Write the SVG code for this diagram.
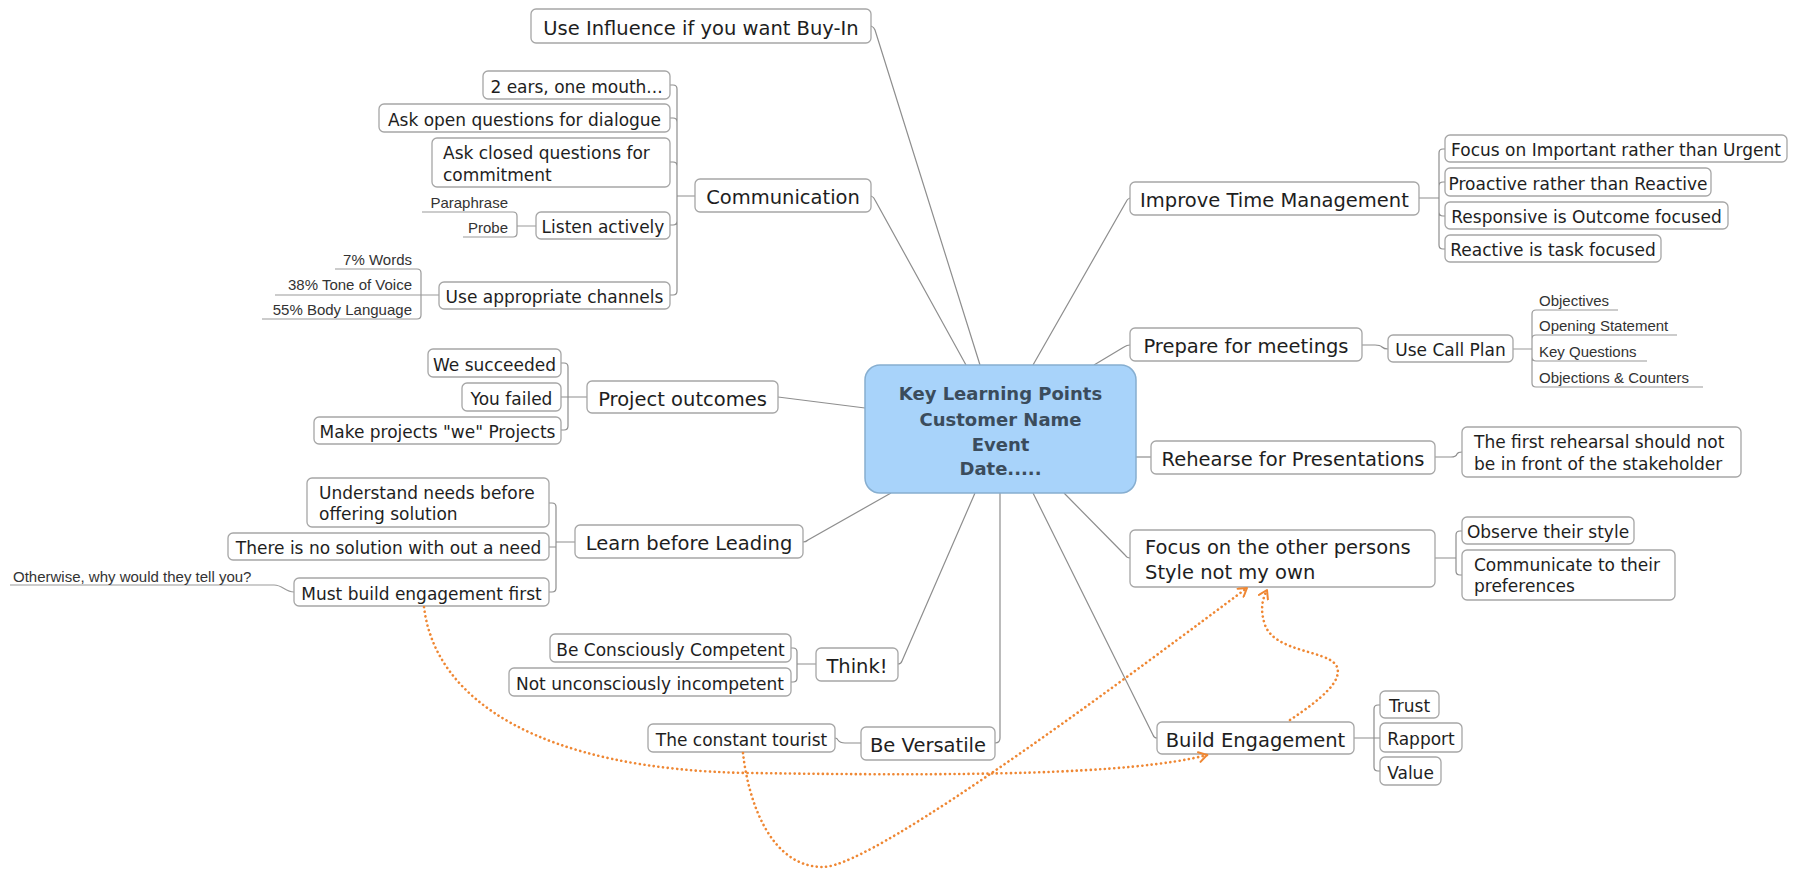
<svg xmlns="http://www.w3.org/2000/svg" width="1807" height="871" viewBox="0 0 1807 871">
<defs>
<style>
.bg{fill:#ffffff}
.box{fill:#ffffff;stroke:#a6a6a6;stroke-width:1.3}
.ctr{fill:#a8d3fa;stroke:#86aed0;stroke-width:1.5}
.ct{font-family:"DejaVu Sans",sans-serif;font-weight:bold;font-size:18px;fill:#3b4c5c;text-anchor:middle}
.m{font-family:"DejaVu Sans",sans-serif;font-size:19.5px;fill:#1e1e1e}
.s{font-family:"DejaVu Sans",sans-serif;font-size:17px;fill:#1e1e1e}
.c{text-anchor:middle}
.l{font-family:"Liberation Sans",Arial,sans-serif;font-size:15px;fill:#333333}
.e{text-anchor:end}
.ln{fill:none;stroke:#8e8e8e;stroke-width:1.2}
.ul{fill:none;stroke:#9a9a9a;stroke-width:1.2}
.rel{fill:none;stroke:#ef8733;stroke-width:2.6;stroke-dasharray:0.1 4.6;stroke-linecap:round}
</style>
<marker id="arr" viewBox="-10 -6 12 12" refX="0" refY="0" markerWidth="12" markerHeight="12" markerUnits="userSpaceOnUse" orient="auto">
<path d="M-8,-5 L0,0 L-8,5" fill="none" stroke="#ef8733" stroke-width="2" stroke-linecap="round" stroke-linejoin="round"/>
</marker>
</defs>
<rect class="bg" x="0" y="0" width="1807" height="871"/>

<g id="connectors">
<!-- central -->
<path class="ln" d="M871 26 Q874 27 875 30 L980 365"/>
<path class="ln" d="M871 196 Q874 197 875 200 L966 365"/>
<path class="ln" d="M1130 198 Q1127 199 1126 202 L1033 365"/>
<path class="ln" d="M1130 345 Q1127 345 1124 347 L1094 365"/>
<path class="ln" d="M1136 457 H1151"/>
<path class="ln" d="M1130 558 Q1127 558 1125 555 L1064 493"/>
<path class="ln" d="M1157 738 Q1154 738 1153 735 L1033 493"/>
<path class="ln" d="M995 743 Q1000 743 1000 738 V493"/>
<path class="ln" d="M898 664 Q901 664 902 661 L975 493"/>
<path class="ln" d="M803 542 Q806 542 808 540 L891 493"/>
<path class="ln" d="M778 397 L865 408"/>
<!-- communication -->
<path class="ln" d="M695 196 H677 M677 196 V89 Q677 85 673 85 H670 M677 196 V122 Q677 118 673 118 H670 M677 196 V166 Q677 162 673 162 H670 M677 196 V221 Q677 225 673 225 H670 M677 196 V291 Q677 295 673 295 H670"/>
<path class="ul" d="M536 226 H517 M517 226 V216 Q517 212 513 212 H422 M517 226 V233 Q517 237 513 237 H463"/>
<path class="ul" d="M439 295 H275 M421 295 V273 Q421 269 417 269 H335 M421 295 V315 Q421 319 417 319 H262"/>
<!-- project outcomes -->
<path class="ln" d="M587 397 H561 M568 397 V367 Q568 363 564 363 H561 M568 397 V426 Q568 430 564 430 H561"/>
<!-- learn before leading -->
<path class="ln" d="M575 542 H556 M556 542 V507 Q556 503 552 503 H549 M556 542 V547 H549 M556 542 V588 Q556 592 552 592 H549"/>
<path class="ul" d="M294 592 C285 592 283 585 274 585 H10"/>
<!-- think -->
<path class="ln" d="M816 664 H797 M797 664 V652 Q797 648 793 648 H791 M797 664 V678 Q797 682 793 682 H791"/>
<!-- versatile -->
<path class="ln" d="M861 743 H845 Q840 743 838 740 Q837 738 835 738"/>
<!-- time management -->
<path class="ln" d="M1419 198 H1439 M1439 198 V153 Q1439 149 1443 149 H1445 M1439 198 V186 Q1439 182 1443 182 H1445 M1439 198 V212 Q1439 216 1443 216 H1445 M1439 198 V245 Q1439 249 1443 249 H1445"/>
<!-- prepare -->
<path class="ln" d="M1362 345 H1375 Q1380 345 1382 347 Q1384 349 1388 349"/>
<path class="ul" d="M1513 349 H1532 M1532 349 V314 Q1532 310 1536 310 H1618 M1532 349 V339 Q1532 335 1536 335 H1677 M1532 349 V357 Q1532 361 1536 361 H1647 M1532 349 V383 Q1532 387 1536 387 H1703"/>
<!-- rehearse -->
<path class="ln" d="M1435 457 H1451 Q1456 457 1457 454 Q1458 452 1462 452"/>
<!-- focus -->
<path class="ln" d="M1435 558 H1456 M1456 558 V535 Q1456 531 1460 531 H1462 M1456 558 V571 Q1456 575 1460 575 H1462"/>
<!-- build -->
<path class="ln" d="M1354 738 H1380 M1374 738 V709 Q1374 705 1378 705 H1380 M1374 738 V767 Q1374 771 1378 771 H1380"/>
</g>

<g id="n-center">
<rect class="ctr" x="865" y="365" width="271" height="128" rx="15"/>
<text class="ct" x="1000.5" y="400">Key Learning Points</text>
<text class="ct" x="1000.5" y="425.5">Customer Name</text>
<text class="ct" x="1000.5" y="450.5">Event</text>
<text class="ct" x="1000.5" y="474.5">Date.....</text>
</g>

<g id="n-influence"><rect class="box" x="531" y="9" width="340" height="34" rx="5"/><text class="m c" x="701" y="34.5">Use Influence if you want Buy-In</text></g>
<g id="n-communication"><rect class="box" x="695" y="179" width="176" height="33" rx="5"/><text class="m c" x="783" y="204">Communication</text></g>
<g id="n-ears"><rect class="box" x="483" y="71" width="187" height="28" rx="5"/><text class="s c" x="576.5" y="92.5">2 ears, one mouth...</text></g>
<g id="n-open"><rect class="box" x="379" y="104" width="291" height="28" rx="5"/><text class="s c" x="524.5" y="125.5">Ask open questions for dialogue</text></g>
<g id="n-closed"><rect class="box" x="432" y="138" width="238" height="49" rx="5"/><text class="s" x="443" y="159">Ask closed questions for</text><text class="s" x="443" y="181">commitment</text></g>
<g id="n-listen"><rect class="box" x="536" y="212" width="134" height="27" rx="5"/><text class="s c" x="603" y="233">Listen actively</text></g>
<g id="n-paraphrase"><text class="l e" x="508" y="208">Paraphrase</text></g>
<g id="n-probe"><text class="l e" x="508" y="233">Probe</text></g>
<g id="n-channels"><rect class="box" x="439" y="282" width="231" height="27" rx="5"/><text class="s c" x="554.5" y="303">Use appropriate channels</text></g>
<g id="n-words"><text class="l e" x="412" y="265">7% Words</text></g>
<g id="n-tone"><text class="l e" x="412" y="290">38% Tone of Voice</text></g>
<g id="n-body"><text class="l e" x="412" y="315">55% Body Language</text></g>

<g id="n-project"><rect class="box" x="587" y="381" width="191" height="32" rx="5"/><text class="m c" x="682.5" y="405.5">Project outcomes</text></g>
<g id="n-succeeded"><rect class="box" x="428" y="349" width="133" height="28" rx="5"/><text class="s c" x="494.5" y="370.5">We succeeded</text></g>
<g id="n-failed"><rect class="box" x="462" y="383" width="99" height="28" rx="5"/><text class="s c" x="511.5" y="404.5">You failed</text></g>
<g id="n-we"><rect class="box" x="314" y="417" width="247" height="27" rx="5"/><text class="s c" x="437.5" y="438">Make projects "we" Projects</text></g>

<g id="n-learn"><rect class="box" x="575" y="525" width="228" height="33" rx="5"/><text class="m c" x="689" y="550">Learn before Leading</text></g>
<g id="n-understand"><rect class="box" x="307" y="478" width="242" height="49" rx="5"/><text class="s" x="319" y="499">Understand needs before</text><text class="s" x="319" y="520">offering solution</text></g>
<g id="n-nosolution"><rect class="box" x="228" y="533" width="321" height="27" rx="5"/><text class="s c" x="388.5" y="554">There is no solution with out a need</text></g>
<g id="n-mustbuild"><rect class="box" x="294" y="578" width="255" height="28" rx="5"/><text class="s c" x="421.5" y="599.5">Must build engagement first</text></g>
<g id="n-otherwise"><text class="l" x="13" y="582">Otherwise, why would they tell you?</text></g>

<g id="n-think"><rect class="box" x="816" y="648" width="82" height="33" rx="5"/><text class="m c" x="857" y="673">Think!</text></g>
<g id="n-competent"><rect class="box" x="550" y="634" width="241" height="28" rx="5"/><text class="s c" x="670.5" y="655.5">Be Consciously Competent</text></g>
<g id="n-incompetent"><rect class="box" x="509" y="668" width="282" height="28" rx="5"/><text class="s c" x="650" y="689.5">Not unconsciously incompetent</text></g>

<g id="n-versatile"><rect class="box" x="861" y="727" width="134" height="33" rx="5"/><text class="m c" x="928" y="752">Be Versatile</text></g>
<g id="n-tourist"><rect class="box" x="648" y="724" width="187" height="28" rx="5"/><text class="s c" x="741.5" y="745.5">The constant tourist</text></g>

<g id="n-time"><rect class="box" x="1130" y="182" width="289" height="33" rx="5"/><text class="m c" x="1274.5" y="207">Improve Time Management</text></g>
<g id="n-important"><rect class="box" x="1445" y="135" width="342" height="27" rx="5"/><text class="s c" x="1616" y="156">Focus on Important rather than Urgent</text></g>
<g id="n-proactive"><rect class="box" x="1445" y="168" width="266" height="28" rx="5"/><text class="s c" x="1578" y="189.5">Proactive rather than Reactive</text></g>
<g id="n-responsive"><rect class="box" x="1445" y="202" width="283" height="27" rx="5"/><text class="s c" x="1586.5" y="223">Responsive is Outcome focused</text></g>
<g id="n-reactive"><rect class="box" x="1445" y="235" width="216" height="27" rx="5"/><text class="s c" x="1553" y="256">Reactive is task focused</text></g>

<g id="n-prepare"><rect class="box" x="1130" y="328" width="232" height="33" rx="5"/><text class="m c" x="1246" y="353">Prepare for meetings</text></g>
<g id="n-callplan"><rect class="box" x="1388" y="335" width="125" height="27" rx="5"/><text class="s c" x="1450.5" y="356">Use Call Plan</text></g>
<g id="n-objectives"><text class="l" x="1539" y="306">Objectives</text></g>
<g id="n-opening"><text class="l" x="1539" y="331">Opening Statement</text></g>
<g id="n-keyq"><text class="l" x="1539" y="357">Key Questions</text></g>
<g id="n-objections"><text class="l" x="1539" y="383">Objections &amp; Counters</text></g>

<g id="n-rehearse"><rect class="box" x="1151" y="441" width="284" height="33" rx="5"/><text class="m c" x="1293" y="466">Rehearse for Presentations</text></g>
<g id="n-firstrehearsal"><rect class="box" x="1462" y="427" width="279" height="50" rx="5"/><text class="s" x="1474" y="448">The first rehearsal should not</text><text class="s" x="1474" y="470">be in front of the stakeholder</text></g>

<g id="n-focus"><rect class="box" x="1130" y="530" width="305" height="57" rx="5"/><text class="m" x="1145" y="554">Focus on the other persons</text><text class="m" x="1145" y="579">Style not my own</text></g>
<g id="n-observe"><rect class="box" x="1462" y="517" width="172" height="27" rx="5"/><text class="s c" x="1548" y="538">Observe their style</text></g>
<g id="n-communicate"><rect class="box" x="1462" y="550" width="213" height="50" rx="5"/><text class="s" x="1474" y="571">Communicate to their</text><text class="s" x="1474" y="592">preferences</text></g>

<g id="n-build"><rect class="box" x="1157" y="722" width="197" height="32" rx="5"/><text class="m c" x="1255.5" y="746.5">Build Engagement</text></g>
<g id="n-trust"><rect class="box" x="1380" y="691" width="59" height="27" rx="5"/><text class="s c" x="1409.5" y="712">Trust</text></g>
<g id="n-rapport"><rect class="box" x="1380" y="723" width="82" height="29" rx="5"/><text class="s c" x="1421" y="745">Rapport</text></g>
<g id="n-value"><rect class="box" x="1380" y="757" width="61" height="28" rx="5"/><text class="s c" x="1410.5" y="778.5">Value</text></g>

<g id="relationships">
<path class="rel" marker-end="url(#arr)" d="M424 607 C435 700 540 770 750 773 C960 776 1130 775 1207 755"/>
<path class="rel" marker-end="url(#arr)" d="M743 753 C748 800 770 867 823 867 C876 867 1150 660 1247 588"/>
<path class="rel" marker-end="url(#arr)" d="M1290 720 C1320 700 1345 680 1336 665 C1325 650 1275 652 1265 625 C1260 610 1262 600 1267 590"/>
</g>
</svg>
